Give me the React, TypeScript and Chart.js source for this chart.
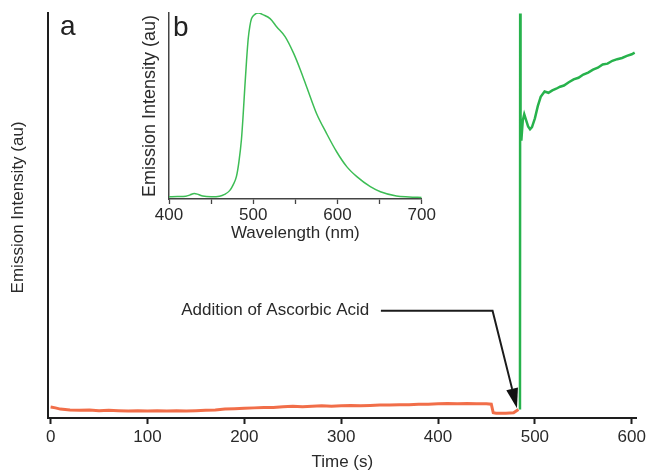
import React, { useEffect, useRef } from "react";
import { Chart, registerables } from "chart.js";

Chart.register(...registerables);

const FONT = '"Liberation Sans", Arial, Helvetica, sans-serif';
const TEXT_COLOR = "#2a2a2a";
const AXIS_COLOR = "#1e1e1e";

// ---- main panel (a) ----
const timeTicks = [0, 100, 200, 300, 400, 500, 600];

const orangeTime = [
  0, 5, 10, 20, 30, 40, 50, 60, 70, 80, 90, 100, 110, 120, 130, 140, 150, 160, 170, 180,
  190, 200, 210, 220, 230, 240, 250, 260, 270, 280, 290, 300, 310, 320, 330, 340, 350, 360,
  370, 380, 390, 400, 410, 420, 430, 440, 450, 455, 457, 460, 470, 478, 483,
];
const orangeValue = [
  2.7, 2.5, 2.2, 2.0, 1.9, 2.0, 1.8, 1.9, 1.8, 1.7, 1.8, 1.7, 1.8, 1.7, 1.8, 1.7, 1.8, 1.9, 2.0, 2.2,
  2.3, 2.4, 2.5, 2.6, 2.6, 2.8, 2.9, 2.8, 2.9, 3.0, 2.9, 3.0, 3.1, 3.0, 3.1, 3.2, 3.2, 3.3,
  3.3, 3.4, 3.4, 3.5, 3.6, 3.5, 3.6, 3.5, 3.5, 3.4, 1.3, 1.2, 1.2, 1.3, 2.1,
];

const greenTime = [
  484.6, 484.8, 485.2, 486, 487.5, 489, 491, 493, 495, 497, 500, 503, 506, 510, 514, 518, 522,
  526, 530, 535, 540, 545, 550, 555, 560, 565, 570, 575, 580, 585, 590, 595, 600, 603,
];
const greenValue = [
  2.1, 99.9, 70, 68.5, 73.5, 75, 73.5, 72, 71.3, 71.8, 74, 77, 79.3, 80.6, 80.3, 80.9, 81.3,
  81.8, 82.1, 82.9, 83.6, 84.0, 84.8, 85.3, 86.0, 86.5, 87.3, 87.5, 88.2, 88.6, 88.9, 89.4, 89.8, 90.2,
];

// annotation (data coordinates): text end, then the arrow path (start, elbow, tip)
const annotationLabel = "Addition of Ascorbic Acid";
const annotationTextAt = [329, 26.5];
const arrowTime = [341, 456.3, 481.5];
const arrowValue = [26.5, 26.5, 2.4];

// ---- inset panel (b) ----
const wavelengthTicks = [400, 450, 500, 550, 600, 650, 700];
const wavelength = [
  400, 410, 420, 425, 430, 435, 440, 450, 460, 466, 472, 476, 480, 483, 486, 488, 490, 492, 494,
  496, 498, 502, 506, 512, 520, 528, 538, 548, 556, 564, 575, 587, 599, 611, 623, 639, 651, 670,
  685, 700,
];
const spectrum = [
  0.012, 0.013, 0.015, 0.022, 0.03, 0.024, 0.016, 0.012, 0.015, 0.025, 0.045, 0.075, 0.12, 0.2,
  0.32, 0.45, 0.6, 0.74, 0.86, 0.93, 0.97, 0.993, 1.0, 0.99, 0.97, 0.925, 0.872, 0.783, 0.694,
  0.595, 0.461, 0.353, 0.254, 0.174, 0.12, 0.066, 0.039, 0.016, 0.011, 0.008,
];

const toPoints = (xs: number[], ys: number[]) => xs.map((x, i) => ({ x, y: ys[i] }));

const mainDecor = {
  id: "mainDecor",
  afterDatasetsDraw(chart: any) {
    const { ctx, chartArea, scales } = chart;
    const xs = scales.x;
    const ys = scales.y;
    ctx.save();
    // arrow
    const px = arrowTime.map((t) => xs.getPixelForValue(t));
    const py = arrowValue.map((v) => ys.getPixelForValue(v));
    const n = px.length;
    const ex = px[n - 1];
    const ey = py[n - 1];
    let dx = ex - px[n - 2];
    let dy = ey - py[n - 2];
    const len = Math.hypot(dx, dy);
    dx /= len;
    dy /= len;
    const headLen = 20;
    const headW = 6;
    ctx.strokeStyle = "#1b1b1b";
    ctx.lineWidth = 2;
    ctx.lineJoin = "miter";
    ctx.beginPath();
    ctx.moveTo(px[0], py[0]);
    for (let i = 1; i < n - 1; i++) ctx.lineTo(px[i], py[i]);
    ctx.lineTo(ex - dx * headLen, ey - dy * headLen);
    ctx.stroke();
    ctx.fillStyle = "#111";
    ctx.beginPath();
    ctx.moveTo(ex, ey);
    ctx.lineTo(ex - dx * headLen - dy * headW, ey - dy * headLen + dx * headW);
    ctx.lineTo(ex - dx * headLen + dy * headW, ey - dy * headLen - dx * headW);
    ctx.closePath();
    ctx.fill();
    // annotation text
    ctx.font = `17px ${FONT}`;
    ctx.fillStyle = TEXT_COLOR;
    ctx.textAlign = "right";
    ctx.textBaseline = "middle";
    ctx.fillText(
      annotationLabel,
      xs.getPixelForValue(annotationTextAt[0]),
      ys.getPixelForValue(annotationTextAt[1])
    );
    // y title
    ctx.save();
    ctx.translate(chartArea.left - 30, chartArea.top + (chartArea.bottom - chartArea.top) * 0.48);
    ctx.rotate(-Math.PI / 2);
    ctx.textAlign = "center";
    ctx.textBaseline = "middle";
    ctx.fillText("Emission Intensity (au)", 0, 0);
    ctx.restore();
    // panel letter
    ctx.font = `28px ${FONT}`;
    ctx.fillStyle = "#222";
    ctx.textAlign = "left";
    ctx.textBaseline = "alphabetic";
    ctx.fillText("a", chartArea.left + 12, chartArea.top + 22);
    ctx.restore();
  },
};

const insetDecor = {
  id: "insetDecor",
  afterDraw(chart: any) {
    const { ctx, chartArea } = chart;
    ctx.save();
    ctx.font = `28px ${FONT}`;
    ctx.fillStyle = "#222";
    ctx.textAlign = "left";
    ctx.textBaseline = "alphabetic";
    ctx.fillText("b", chartArea.left + 4, chartArea.top + 23);
    ctx.restore();
  },
};

export default function App() {
  const mainRef = useRef<HTMLCanvasElement | null>(null);
  const insetRef = useRef<HTMLCanvasElement | null>(null);

  useEffect(() => {
    const main = new Chart(mainRef.current as HTMLCanvasElement, {
      type: "line",
      data: {
        datasets: [
          {
            data: toPoints(orangeTime, orangeValue),
            borderColor: "rgba(240,98,58,0.92)",
            borderWidth: 3,
            pointRadius: 0,
            tension: 0,
          },
          {
            data: toPoints(greenTime, greenValue),
            borderColor: "#27b24c",
            borderWidth: 2.5,
            pointRadius: 0,
            tension: 0,
          },
        ],
      },
      options: {
        responsive: false,
        animation: false,
        devicePixelRatio: 1,
        layout: { padding: { left: 0, top: 13, right: 9, bottom: 0 } },
        plugins: { legend: { display: false }, tooltip: { enabled: false } },
        scales: {
          x: {
            type: "linear",
            min: -2.7,
            max: 605,
            afterBuildTicks: (s: any) => {
              s.ticks = timeTicks.map((v) => ({ value: v }));
            },
            afterFit: (s: any) => {
              s.height = 56;
            },
            border: { color: AXIS_COLOR, width: 2 },
            grid: {
              drawOnChartArea: false,
              drawTicks: true,
              tickLength: 6,
              tickWidth: 2,
              tickColor: AXIS_COLOR,
            },
            ticks: {
              font: { family: FONT, size: 17 },
              color: TEXT_COLOR,
              padding: 3,
              maxRotation: 0,
              autoSkip: false,
            },
            title: {
              display: true,
              text: "Time (s)",
              font: { family: FONT, size: 17 },
              color: TEXT_COLOR,
              padding: { top: 0, bottom: 1 },
            },
          },
          y: {
            type: "linear",
            min: 0,
            max: 100,
            afterFit: (s: any) => {
              s.width = 48;
            },
            ticks: { display: false },
            grid: { drawOnChartArea: false, drawTicks: false },
            border: { color: AXIS_COLOR, width: 2 },
          },
        },
      },
      plugins: [mainDecor],
    } as any);

    const inset = new Chart(insetRef.current as HTMLCanvasElement, {
      type: "line",
      data: {
        datasets: [
          {
            data: toPoints(wavelength, spectrum),
            borderColor: "#3dbd55",
            borderWidth: 1.5,
            pointRadius: 0,
            cubicInterpolationMode: "monotone",
          },
        ],
      },
      options: {
        responsive: false,
        animation: false,
        devicePixelRatio: 1,
        layout: { padding: { left: 130, top: 13, right: 227.3, bottom: 224 } },
        plugins: { legend: { display: false }, tooltip: { enabled: false } },
        scales: {
          x: {
            type: "linear",
            min: 400,
            max: 700,
            afterBuildTicks: (s: any) => {
              s.ticks = wavelengthTicks.map((v) => ({ value: v }));
            },
            afterFit: (s: any) => {
              s.height = 51;
            },
            border: { color: "#444", width: 1.5 },
            grid: {
              drawOnChartArea: false,
              drawTicks: true,
              tickLength: 5,
              tickWidth: 1.3,
              tickColor: "#444",
            },
            ticks: {
              font: { family: FONT, size: 17 },
              color: TEXT_COLOR,
              padding: 1,
              maxRotation: 0,
              autoSkip: false,
              callback: (v: any) => (Number(v) % 100 === 0 ? String(v) : ""),
            },
            title: {
              display: true,
              text: "Wavelength (nm)",
              font: { family: FONT, size: 17 },
              color: TEXT_COLOR,
              padding: { top: 0, bottom: 6 },
            },
          },
          y: {
            type: "linear",
            min: 0,
            max: 1.0,
            afterFit: (s: any) => {
              s.width = 39;
            },
            ticks: { display: false },
            grid: { drawOnChartArea: false, drawTicks: false },
            border: { color: "#444", width: 1.5 },
            title: {
              display: true,
              text: "Emission Intensity (au)",
              font: { family: FONT, size: 18 },
              color: TEXT_COLOR,
              padding: { top: 9, bottom: 0 },
            },
          },
        },
      },
      plugins: [insetDecor],
    } as any);

    return () => {
      main.destroy();
      inset.destroy();
    };
  }, []);

  const canvasStyle: React.CSSProperties = {
    position: "absolute",
    left: 0,
    top: 0,
    width: 649,
    height: 474,
  };

  return (
    <div
      style={{
        position: "absolute",
        left: 0,
        top: 0,
        width: 649,
        height: 474,
        background: "#fff",
      }}
    >
      <canvas ref={mainRef} width={649} height={474} style={canvasStyle} />
      <canvas ref={insetRef} width={649} height={474} style={canvasStyle} />
    </div>
  );
}
